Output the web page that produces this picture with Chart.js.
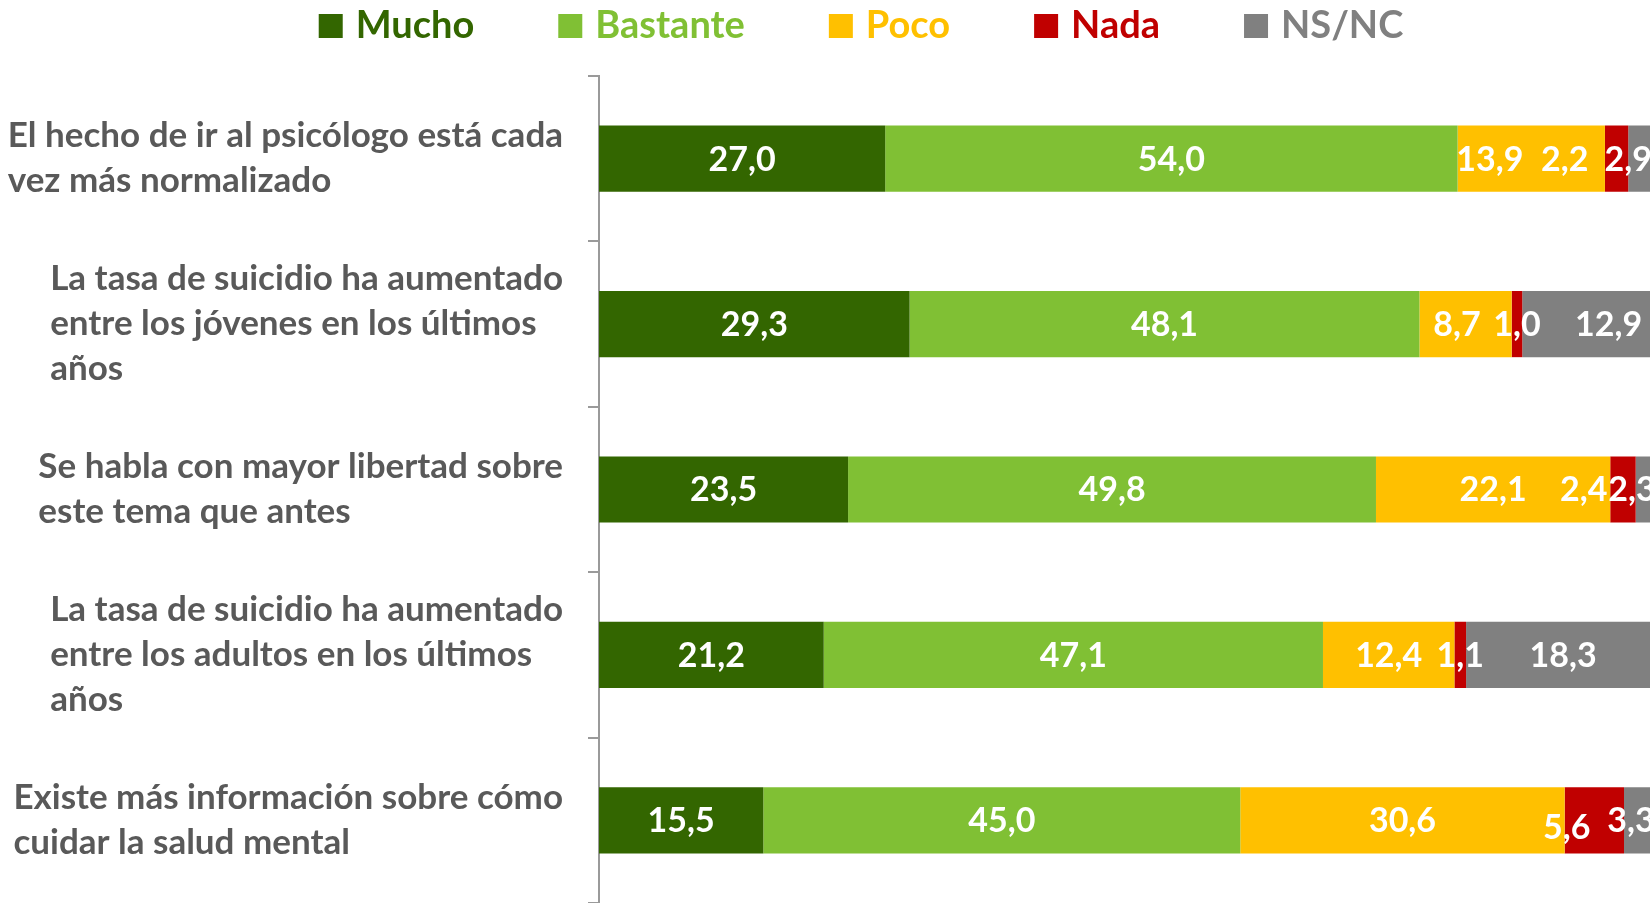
<!DOCTYPE html>
<html>
<head>
<meta charset="utf-8">
<script src="https://cdn.jsdelivr.net/npm/chart.js@4.4.1/dist/chart.umd.min.js"></script>
<style>
  html, body { margin: 0; padding: 0; background: #fff; overflow: hidden; }
</style>
</head>
<body>
<canvas id="chart" width="1680" height="903"></canvas>
<script>
// Preguntas (cada línea es una línea del rótulo)
const categories = [
  ['El hecho de ir al psicólogo está cada', 'vez más normalizado'],
  ['La tasa de suicidio ha aumentado', 'entre los jóvenes en los últimos', 'años'],
  ['Se habla con mayor libertad sobre', 'este tema que antes'],
  ['La tasa de suicidio ha aumentado', 'entre los adultos en los últimos', 'años'],
  ['Existe más información sobre cómo', 'cuidar la salud mental']
];

// Respuestas (%)
const seriesNames = ['Mucho', 'Bastante', 'Poco', 'Nada', 'NS/NC'];
const mucho = [27.0, 29.3, 23.5, 21.2, 15.5];
const bastante = [54.0, 48.1, 49.8, 47.1, 45.0];
const poco = [13.9, 8.7, 22.1, 12.4, 30.6];
const nada = [2.2, 1.0, 2.4, 1.1, 5.6];
const nsnc = [2.9, 12.9, 2.3, 18.3, 3.3];

const seriesColors = ['#336600', '#80C034', '#FFC000', '#C00000', '#808080'];

// Etiquetas movidas a mano en el original (en unidades del eje x), fila x serie
const labelShift = [
  [0, 0, -3.9, -4.9, -1.45],
  [0, 0, -0.8, 0, 1.7],
  [0, 0, 0, -3.7, -1.5],
  [0, 0, 0, 0, 0],
  [0, 0, 0, -2.6, -1.0]
];
const labelDrop = [
  [0, 0, 0, 0, 0],
  [0, 0, 0, 0, 0],
  [0, 0, 0, 0, 0],
  [0, 0, 0, 0, 0],
  [0, 0, 0, 7, 0]
];

const allSeries = [mucho, bastante, poco, nada, nsnc];
const fontFamily = 'Lato, "Open Sans", sans-serif';

function formatValue(v) {
  return v.toFixed(1).replace('.', ',');
}

// Rótulos de las preguntas: bloque alineado a la derecha, líneas a la izquierda
const categoryLabels = {
  id: 'categoryLabels',
  afterDraw(chart) {
    const ctx = chart.ctx;
    const yScale = chart.scales.y;
    const right = chart.chartArea.left - 36;
    const lineHeight = 45;
    ctx.save();
    ctx.font = `bold 35px ${fontFamily}`;
    ctx.fillStyle = '#595959';
    ctx.textAlign = 'left';
    ctx.textBaseline = 'middle';
    categories.forEach((lines, i) => {
      const w = Math.max(...lines.map(l => ctx.measureText(l).width));
      const cy = yScale.getPixelForValue(i);
      lines.forEach((line, j) => {
        ctx.fillText(line, right - w, cy + (j - (lines.length - 1) / 2) * lineHeight);
      });
    });
    ctx.restore();
  }
};

// Valores dentro de las barras
const valueLabels = {
  id: 'valueLabels',
  afterDatasetsDraw(chart) {
    const ctx = chart.ctx;
    const xScale = chart.scales.x;
    const yScale = chart.scales.y;
    ctx.save();
    ctx.font = `bold 34px ${fontFamily}`;
    ctx.fillStyle = '#ffffff';
    ctx.textAlign = 'center';
    ctx.textBaseline = 'middle';
    for (let row = 0; row < categories.length; row++) {
      let start = 0;
      allSeries.forEach((serie, s) => {
        const v = serie[row];
        const x = xScale.getPixelForValue(start + v / 2 + labelShift[row][s]);
        const y = yScale.getPixelForValue(row) + labelDrop[row][s];
        ctx.fillText(formatValue(v), x, y + 1);
        start += v;
      });
    }
    ctx.restore();
  }
};

// Leyenda arriba, con el texto del color de cada serie
const topLegend = {
  id: 'topLegend',
  afterDraw(chart) {
    const ctx = chart.ctx;
    const box = 24;
    const boxGap = 13;
    const itemGap = 84;
    const centerX = 861;
    const centerY = 26;
    ctx.save();
    ctx.font = `bold 38px ${fontFamily}`;
    ctx.textAlign = 'left';
    ctx.textBaseline = 'middle';
    const widths = chart.data.datasets.map(d => box + boxGap + ctx.measureText(d.label).width);
    const total = widths.reduce((a, b) => a + b, 0) + itemGap * (widths.length - 1);
    let x = centerX - total / 2;
    chart.data.datasets.forEach((d, i) => {
      ctx.fillStyle = d.backgroundColor;
      ctx.fillRect(x, centerY - box / 2, box, box);
      ctx.fillText(d.label, x + box + boxGap, centerY);
      x += widths[i] + itemGap;
    });
    ctx.restore();
  }
};

const ctx = document.querySelector('#chart');

new Chart(ctx, {
  type: 'bar',
  data: {
    labels: categories.map(c => c.join(' ')),
    datasets: seriesNames.map((name, i) => ({
      label: name,
      data: allSeries[i],
      backgroundColor: seriesColors[i],
      borderWidth: 0,
      barPercentage: 0.4,
      categoryPercentage: 1.0
    }))
  },
  options: {
    indexAxis: 'y',
    responsive: false,
    animation: false,
    layout: {
      padding: { top: 76, right: 21, bottom: 0, left: 0 }
    },
    scales: {
      x: {
        stacked: true,
        min: 0,
        max: 100,
        display: false
      },
      y: {
        stacked: true,
        afterFit(scale) {
          scale.width = 599;
        },
        ticks: { display: false },
        grid: {
          offset: true,
          drawOnChartArea: false,
          drawTicks: true,
          tickLength: 11,
          color: '#9a9a9a',
          lineWidth: 2
        },
        border: { display: true, color: '#9a9a9a', width: 2 }
      }
    },
    plugins: {
      legend: { display: false },
      tooltip: { enabled: false }
    }
  },
  plugins: [categoryLabels, valueLabels, topLegend]
});
</script>
</body>
</html>
